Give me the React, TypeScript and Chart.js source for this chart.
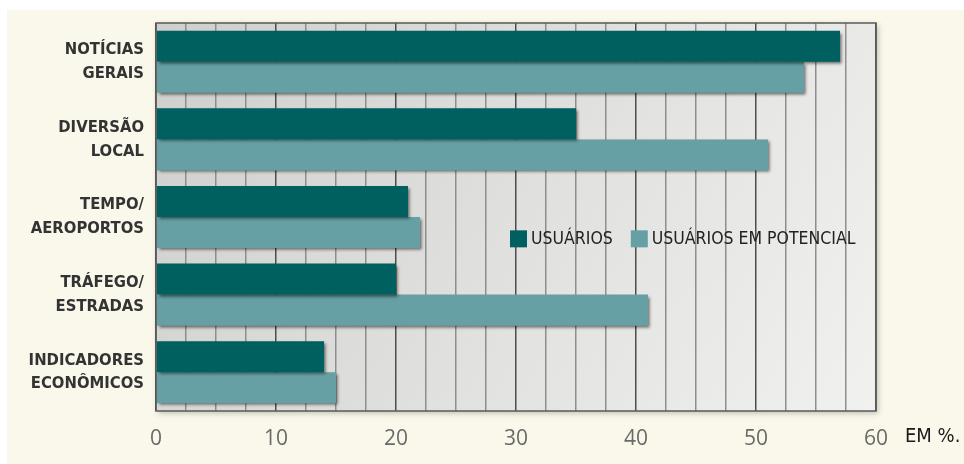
import { useEffect, useRef } from 'react';
import { Chart, registerables } from 'chart.js';

Chart.register(...registerables);

// Categories (two-line labels), series and axis labels
const categories: string[][] = [
  ['NOTÍCIAS', 'GERAIS'],
  ['DIVERSÃO', 'LOCAL'],
  ['TEMPO/', 'AEROPORTOS'],
  ['TRÁFEGO/', 'ESTRADAS'],
  ['INDICADORES', 'ECONÔMICOS'],
];
const seriesNames = ['USUÁRIOS', 'USUÁRIOS EM POTENCIAL'];
const usuarios = [57, 35, 21, 20, 14];
const potencial = [54, 51, 22, 41, 15];
const xTickLabels = [0, 10, 20, 30, 40, 50, 60];
const unitLabel = 'EM %.';

const DARK = '#00605f';
const LIGHT = '#66a0a4';
const CONDENSED = '"DejaVu Sans Condensed", "Liberation Sans Narrow", "Roboto", sans-serif';

const backdropPlugin = {
  id: 'backdrop',
  beforeDraw(chart: any) {
    const { ctx, chartArea: a, width, height } = chart;
    ctx.save();
    ctx.fillStyle = '#ffffff';
    ctx.fillRect(0, 0, width, height);
    ctx.fillStyle = '#faf8ea';
    ctx.fillRect(7, 10, width - 7, height - 10);
    // soft shadow behind the plot panel
    ctx.shadowColor = 'rgba(0,0,0,0.25)';
    ctx.shadowBlur = 6;
    ctx.shadowOffsetX = 2;
    ctx.shadowOffsetY = 2;
    const g = ctx.createLinearGradient(a.left, a.top, a.right, a.bottom);
    g.addColorStop(0, '#cfcfcd');
    g.addColorStop(0.45, '#dededc');
    g.addColorStop(1, '#f1f1ef');
    ctx.fillStyle = g;
    ctx.fillRect(a.left, a.top, a.right - a.left, a.bottom - a.top);
    ctx.restore();
  },
};

const shadowPlugin = {
  id: 'barShadow',
  beforeDatasetsDraw(chart: any) {
    const ctx = chart.ctx;
    ctx.save();
    ctx.shadowColor = 'rgba(0,0,0,0.55)';
    ctx.shadowBlur = 3;
    ctx.shadowOffsetX = 2;
    ctx.shadowOffsetY = 2;
  },
  afterDatasetsDraw(chart: any) {
    chart.ctx.restore();
  },
};

const overlayPlugin = {
  id: 'overlay',
  afterDraw(chart: any) {
    const { ctx, chartArea: a } = chart;
    const xs = chart.scales.x;
    ctx.save();
    // plot frame
    ctx.strokeStyle = '#5a5a5a';
    ctx.lineWidth = 1.5;
    ctx.strokeRect(a.left, a.top, a.right - a.left, a.bottom - a.top);

    // legend inside the plot
    ctx.font = `17.5px ${CONDENSED}`;
    ctx.textBaseline = 'middle';
    ctx.textAlign = 'left';
    let x = xs.getPixelForValue(29.5);
    const y = a.top + (a.bottom - a.top) * 0.555;
    chart.data.datasets.forEach((ds: any, i: number) => {
      ctx.fillStyle = ds.backgroundColor;
      ctx.fillRect(x, y - 8, 17, 17);
      ctx.fillStyle = '#222222';
      ctx.fillText(ds.label, x + 21, y + 1);
      x += 21 + ctx.measureText(ds.label).width + (i === 0 ? 18 : 0);
    });

    // unit label next to the last tick
    ctx.font = `20px ${CONDENSED}`;
    ctx.fillStyle = '#1a1a1a';
    ctx.fillText(unitLabel, a.right + 29, 437);
    ctx.restore();
  },
};

export default function App() {
  const ref = useRef<HTMLCanvasElement | null>(null);

  useEffect(() => {
    if (!ref.current) return;
    const chart = new Chart(ref.current, {
      type: 'bar',
      data: {
        labels: categories,
        datasets: [
          { label: seriesNames[0], data: usuarios, backgroundColor: DARK, borderWidth: 0 },
          { label: seriesNames[1], data: potencial, backgroundColor: LIGHT, borderWidth: 0 },
        ],
      },
      options: {
        indexAxis: 'y',
        animation: false,
        responsive: false,
        devicePixelRatio: 1,
        layout: { padding: { top: 23, right: 88, bottom: 0, left: 0 } },
        datasets: { bar: { categoryPercentage: 0.8, barPercentage: 1 } },
        plugins: { legend: { display: false }, tooltip: { enabled: false } },
        scales: {
          x: {
            min: 0,
            max: 60,
            border: { display: false },
            grid: {
              drawTicks: false,
              color: (c: any) => (c.tick && c.tick.value % 10 === 0 ? '#4d4d4d' : '#8e8e8e'),
              lineWidth: 1.5,
            },
            ticks: {
              stepSize: 2.5,
              autoSkip: false,
              maxRotation: 0,
              padding: 15,
              color: '#6a6a6a',
              font: { family: '"Open Sans", sans-serif', size: 21 },
              callback: (v: any) => (xTickLabels.includes(Number(v)) ? String(v) : ''),
            },
            afterFit: (s: any) => {
              s.height = 53;
              s.paddingLeft = 0;
              s.paddingRight = 0;
            },
          },
          y: {
            border: { display: false },
            grid: { display: false, drawTicks: false },
            ticks: {
              padding: 12,
              color: '#333333',
              font: { family: CONDENSED, size: 16.5, weight: 'bold', lineHeight: 1.45 },
            },
            afterFit: (s: any) => {
              s.width = 156;
              s.paddingTop = 0;
              s.paddingBottom = 0;
            },
          },
        },
      },
      plugins: [backdropPlugin, shadowPlugin, overlayPlugin],
    } as any);
    return () => chart.destroy();
  }, []);

  return (
    <div style={{ position: 'absolute', left: 0, top: 0, width: 964, height: 464 }}>
      <canvas ref={ref} width={964} height={464} style={{ display: 'block', width: 964, height: 464 }} />
    </div>
  );
}
